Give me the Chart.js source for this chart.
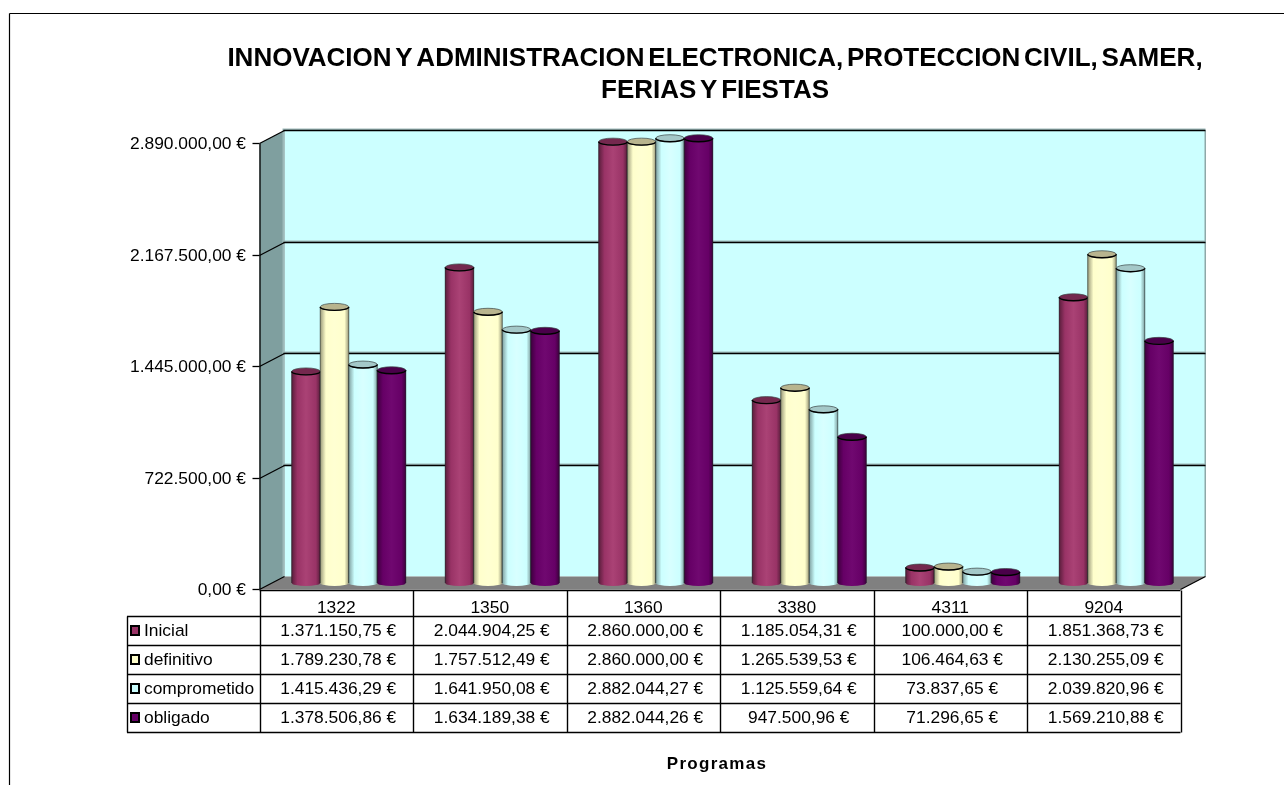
<!DOCTYPE html>
<html lang="es">
<head>
<meta charset="utf-8">
<title>Programas</title>
<script src="https://cdn.jsdelivr.net/npm/chart.js@4/dist/chart.umd.js"></script>
<style>
    html, body { margin: 0; padding: 0; background: #fff; }
    #wrap { position: relative; width: 1284px; height: 785px; }
</style>
</head>
<body>
<div id="wrap"><canvas id="chart" width="1284" height="785"></canvas></div>
<script>
// Data
const titleLines = [
    "INNOVACION Y ADMINISTRACION ELECTRONICA, PROTECCION CIVIL, SAMER,",
    "FERIAS Y FIESTAS"
];
const xAxisTitle = "Programas";
const categories = ["1322", "1350", "1360", "3380", "4311", "9204"];
const seriesNames = ["Inicial", "definitivo", "comprometido", "obligado"];

const inicial = [1371150.75, 2044904.25, 2860000.00, 1185054.31, 100000.00, 1851368.73];
const definitivo = [1789230.78, 1757512.49, 2860000.00, 1265539.53, 106464.63, 2130255.09];
const comprometido = [1415436.29, 1641950.08, 2882044.27, 1125559.64, 73837.65, 2039820.96];
const obligado = [1378506.86, 1634189.38, 2882044.26, 947500.96, 71296.65, 1569210.88];

const yTicks = [0, 722500, 1445000, 2167500, 2890000];

// Colours for each series: body, light centre, dark edge, top cap
const seriesColors = [
    { body: "#993366", light: "#AA4275", dark: "#5A1E3C", cap: "#74284E" },
    { body: "#FFFFCC", light: "#FFFFD2", dark: "#9A9A7A", cap: "#B8B48E" },
    { body: "#CCFFFF", light: "#D8FFFF", dark: "#7FA0A0", cap: "#A4C8C8" },
    { body: "#660066", light: "#700870", dark: "#3E003E", cap: "#4A004A" }
];

const FONT = "'Liberation Sans', Arial, sans-serif";

// Box sizes of the 3D frame and of the table below
const depthX = 12.5;
const depthY = 6.5;
const tableLeft = 127;
const tableRows = [590.5, 616.5, 645.5, 674.5, 703.5, 732.5];

function euro(v) {
    return v.toLocaleString("es-ES", { minimumFractionDigits: 2, maximumFractionDigits: 2 }) + " €";
}

function line(ctx, x1, y1, x2, y2) {
    ctx.beginPath();
    ctx.moveTo(x1, y1);
    ctx.lineTo(x2, y2);
    ctx.stroke();
}

function poly(ctx, pts, color) {
    ctx.fillStyle = color;
    ctx.beginPath();
    pts.forEach((p, i) => i ? ctx.lineTo(p[0], p[1]) : ctx.moveTo(p[0], p[1]));
    ctx.closePath();
    ctx.fill();
}

// Walls, floor and gridlines go behind the bars
const frame3d = {
    id: "frame3d",
    beforeDatasetsDraw(chart) {
        const { ctx, chartArea: a, scales: { y } } = chart;
        const fl = a.left - depthX, fr = a.right - depthX;
        const bl = a.left + depthX, br = a.right + depthX;
        const top = a.top - depthY, bottom = a.bottom - depthY;
        const ftop = a.top + depthY, fbottom = a.bottom + depthY;

        ctx.save();
        poly(ctx, [[bl, top], [br, top], [br, bottom], [bl, bottom]], "#CCFFFF");
        poly(ctx, [[fl, ftop], [bl, top], [bl, bottom], [fl, fbottom]], "#7F9F9F");
        poly(ctx, [[fl, fbottom], [bl, bottom], [br, bottom], [fr, fbottom]], "#808080");

        // lighter strip where the left wall meets the back wall, grey right edge
        ctx.fillStyle = "#9DBABA";
        ctx.fillRect(bl - 2, top, 2, bottom - top);
        ctx.fillStyle = "#8FA8A8";
        ctx.fillRect(br - 1, top, 1.5, bottom - top);

        ctx.lineWidth = 1.3;
        yTicks.forEach((t) => {
            const py = Math.round(y.getPixelForValue(t));
            const back = py - depthY;
            const front = py + depthY;
            if (t > 0) {
                ctx.fillStyle = "#9DBABA";
                ctx.fillRect(bl - 2, back - 2, br - bl + 2, 2);
                ctx.strokeStyle = "#000";
                line(ctx, bl - 1, back, br, back);
            }
            ctx.strokeStyle = "#000";
            line(ctx, fl, front, bl, back);
            line(ctx, fl - 7, front, fl, front);
        });
        ctx.strokeStyle = "#000";
        line(ctx, fl + 0.5, ftop, fl + 0.5, fbottom);
        line(ctx, fr, fbottom, br, bottom);
        ctx.restore();
    }
};

// Turns the flat bars into cylinders with a shaded body and elliptical ends
const cylinders = {
    id: "cylinders",
    afterDatasetsDraw(chart) {
        const { ctx, scales: { y } } = chart;
        const base = y.getPixelForValue(0);
        ctx.save();
        chart.data.datasets.forEach((ds, i) => {
            const c = seriesColors[i];
            chart.getDatasetMeta(i).data.forEach((bar) => {
                const w = bar.width, x0 = bar.x - w / 2, x1 = bar.x + w / 2, ty = bar.y;
                const grad = ctx.createLinearGradient(x0, 0, x1, 0);
                grad.addColorStop(0, c.dark);
                grad.addColorStop(0.2, c.body);
                grad.addColorStop(0.5, c.light);
                grad.addColorStop(0.85, c.body);
                grad.addColorStop(1, c.dark);

                ctx.fillStyle = grad;
                ctx.beginPath();
                ctx.moveTo(x0, ty);
                ctx.lineTo(x0, base);
                ctx.ellipse(bar.x, base, w / 2, 3, 0, Math.PI, 0, true);
                ctx.lineTo(x1, ty);
                ctx.closePath();
                ctx.fill();

                ctx.strokeStyle = "rgba(20,30,30,0.6)";
                ctx.lineWidth = 1;
                line(ctx, x0, ty, x0, base);
                line(ctx, x1, ty, x1, base);

                ctx.fillStyle = c.cap;
                ctx.beginPath();
                ctx.ellipse(bar.x, ty, w / 2, 3.5, 0, 0, Math.PI * 2);
                ctx.fill();
                ctx.strokeStyle = "rgba(60,70,70,0.7)";
                ctx.stroke();
                ctx.strokeStyle = "#000";
                ctx.lineWidth = 1.4;
                ctx.beginPath();
                ctx.ellipse(bar.x, ty, w / 2, 3.5, 0, 0, Math.PI);
                ctx.stroke();
            });
        });
        ctx.restore();
    }
};

// Chart heading, x axis caption and the data table
const texts = {
    id: "texts",
    afterDraw(chart) {
        const { ctx, chartArea: a } = chart;
        const catW = (a.right - a.left) / categories.length;
        const tableX = (i) => a.left - depthX + catW * i;
        ctx.save();

        // outer frame of the picture
        ctx.strokeStyle = "#000";
        ctx.lineWidth = 1.2;
        line(ctx, 9.5, 13.5, 1284, 13.5);
        line(ctx, 9.5, 13.5, 9.5, 785);

        ctx.fillStyle = "#000";
        ctx.textAlign = "center";
        ctx.textBaseline = "alphabetic";
        ctx.font = "bold 26px " + FONT;
        ctx.wordSpacing = "-3.5px";
        ctx.fillText(titleLines[0], 715, 66);
        ctx.fillText(titleLines[1], 715, 98);
        ctx.wordSpacing = "0px";

        ctx.font = "bold 17px " + FONT;
        ctx.letterSpacing = "1.3px";
        ctx.fillText(xAxisTitle, 717, 769);
        ctx.letterSpacing = "0px";

        // table grid
        ctx.lineWidth = 1.4;
        ctx.strokeStyle = "#000";
        const right = tableX(categories.length);
        tableRows.forEach((ry, r) => {
            line(ctx, r === 0 ? tableX(0) : tableLeft, ry, right, ry);
        });
        const last = tableRows[tableRows.length - 1];
        line(ctx, tableLeft + 0.5, tableRows[1], tableLeft + 0.5, last);
        for (let i = 0; i <= categories.length; i++) {
            const lx = Math.round(tableX(i)) + 0.5;
            line(ctx, lx, tableRows[0], lx, last);
        }

        // rows with the legend keys
        const rows = [inicial, definitivo, comprometido, obligado];
        ctx.textBaseline = "middle";
        ctx.font = "17.4px " + FONT;
        rows.forEach((vals, r) => {
            const cy = (tableRows[r + 1] + tableRows[r + 2]) / 2;
            ctx.fillStyle = seriesColors[r].body;
            ctx.strokeStyle = "#000";
            ctx.lineWidth = 2;
            ctx.fillRect(131, cy - 5, 8, 9);
            ctx.strokeRect(131, cy - 5, 8, 9);

            ctx.fillStyle = "#000";
            ctx.textAlign = "left";
            ctx.fillText(seriesNames[r], 144, cy);
            ctx.textAlign = "center";
            vals.forEach((v, i) => {
                ctx.fillText(euro(v), tableX(i) + catW / 2 + 2, cy);
            });
        });
        ctx.restore();
    }
};

new Chart(document.getElementById("chart").getContext("2d"), {
    type: "bar",
    data: {
        labels: categories,
        datasets: [inicial, definitivo, comprometido, obligado].map((vals, i) => ({
            label: seriesNames[i],
            data: vals,
            backgroundColor: seriesColors[i].body,
            borderWidth: 0,
            barPercentage: 1,
            categoryPercentage: 0.743
        }))
    },
    options: {
        responsive: false,
        animation: false,
        layout: { padding: { left: 0, top: 137, right: 91, bottom: 0 } },
        plugins: {
            legend: { display: false },
            title: { display: false },
            tooltip: { enabled: false }
        },
        scales: {
            x: {
                afterFit: (scale) => { scale.height = 202; },
                grid: { display: false, drawTicks: false },
                border: { display: false },
                ticks: {
                    color: "#000",
                    font: { family: FONT, size: 17.4 },
                    padding: 15,
                    labelOffset: -12.5,
                    maxRotation: 0
                }
            },
            y: {
                min: 0,
                max: 2890000,
                afterFit: (scale) => { scale.width = 272; },
                afterBuildTicks: (scale) => { scale.ticks = yTicks.map((value) => ({ value })); },
                grid: { display: false, drawTicks: false },
                border: { display: false },
                ticks: {
                    color: "#000",
                    font: { family: FONT, size: 17.4 },
                    padding: 26,
                    labelOffset: 7.5,
                    callback: (v) => euro(v)
                }
            }
        }
    },
    plugins: [frame3d, cylinders, texts]
});
</script>
</body>
</html>
